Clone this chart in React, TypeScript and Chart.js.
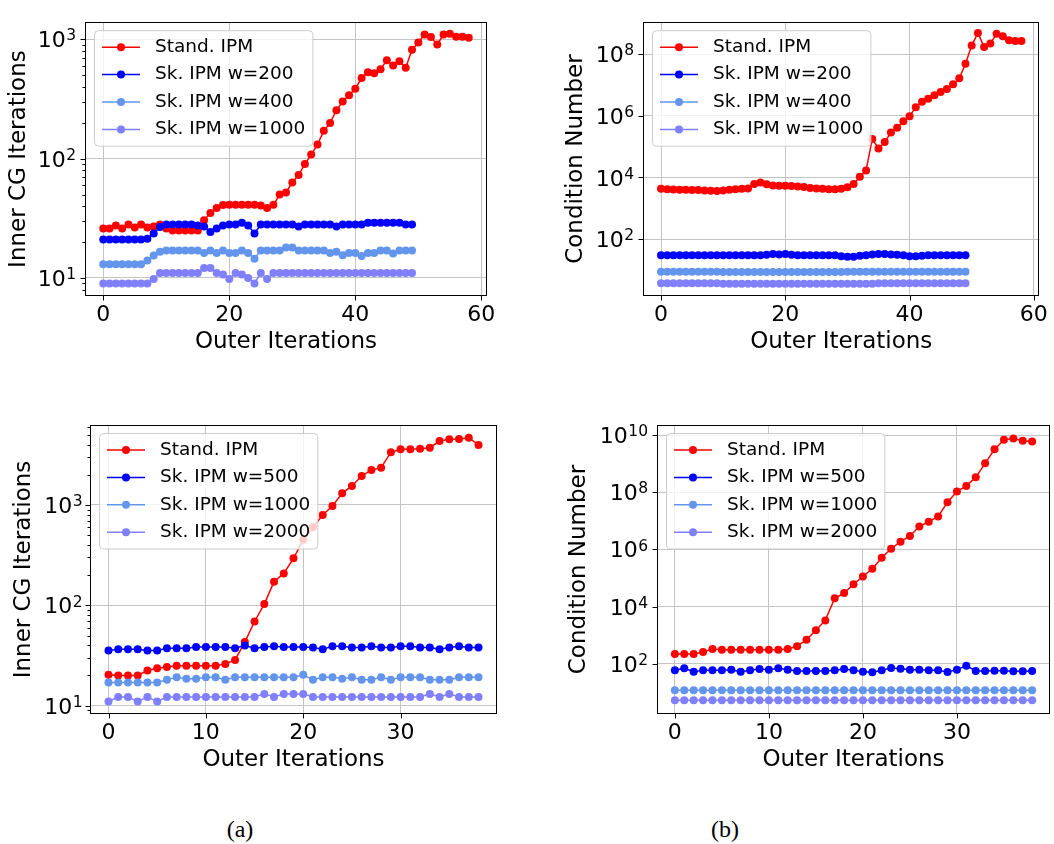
import React, { useEffect, useRef } from "react";
import { Chart, registerables } from "chart.js";

Chart.register(...registerables);

const SANS = "'DejaVu Sans', 'Liberation Sans', sans-serif";
const SERIF = "'Liberation Serif', 'DejaVu Serif', serif";

const COLORS = ["#ff0000", "#0000ff", "#6495ed", "#8080ff"];

// ---------- labels ----------
const legendTop = ["Stand. IPM", "Sk. IPM w=200", "Sk. IPM w=400", "Sk. IPM w=1000"];
const legendBottom = ["Stand. IPM", "Sk. IPM w=500", "Sk. IPM w=1000", "Sk. IPM w=2000"];
const xTitle = "Outer Iterations";
const yTitleIters = "Inner CG Iterations";
const yTitleCond = "Condition Number";

// ---------- tick values ----------
const xTicksTop = [0, 20, 40, 60];
const xTicksBottom = [0, 10, 20, 30];
const yMajorIters = [10, 100, 1000];
const yMinorItersA = [8, 9, 20, 30, 40, 50, 60, 70, 80, 90, 200, 300, 400, 500, 600, 700, 800, 900];
const yMinorItersC = [9, 20, 30, 40, 50, 60, 70, 80, 90, 200, 300, 400, 500, 600, 700, 800, 900, 2000, 3000, 4000, 5000, 6000];
const yMajorCondB = [1e2, 1e4, 1e6, 1e8];
const yMajorCondD = [1e2, 1e4, 1e6, 1e8, 1e10];

// ---------- panel (a) top: inner CG iterations ----------
const itersStandTop = [
  26, 26, 27.5, 26, 28, 26.5, 28, 26.5, 27, 28,
  26, 25, 25, 25, 25, 25, 30.5, 35, 38.6, 40.8,
  41, 41, 41, 41, 41, 40.5, 38.6, 41, 50, 52,
  63, 73, 90, 108, 131, 171, 199, 254, 301, 340,
  385, 473, 528, 518, 561, 666, 603, 654, 578, 818,
  940, 1096, 1043, 902, 1096, 1110, 1050, 1050, 1030,
];
const itersW200 = [
  21, 21, 21, 21, 21, 21, 21, 21.3, 23.6, 26.7,
  28, 28, 28, 28, 28, 27.5, 27, 24.3, 26, 27.5,
  28, 28, 29, 27.5, 23.6, 28, 28, 28, 28, 28,
  28, 27, 28, 28, 28, 28, 28, 27, 28, 28,
  28, 28, 29, 29, 29, 29, 29, 29, 28, 28,
];
const itersW400 = [
  13, 13, 13, 13, 13, 13, 13, 14, 15.4, 16.6,
  17, 17, 17, 17, 17, 17, 16.2, 17, 16.2, 17,
  16.2, 16.2, 17, 16.2, 14.5, 17, 17, 17, 17, 18,
  18, 17, 17, 17, 17, 17, 16.2, 16.6, 15.5, 16.2,
  16.2, 15.3, 16.2, 16.2, 17, 17, 16, 17, 17, 17,
];
const itersW1000 = [
  9, 9, 9, 9, 9, 9, 9, 9, 9.8, 11,
  11, 11, 11, 11, 11, 11, 12.1, 12.1, 11, 10.7,
  9.8, 11, 10.7, 10, 9, 11, 9.8, 11, 11, 11,
  11, 11, 11, 11, 11, 11, 11, 11, 11, 11,
  11, 11, 11, 11, 11, 11, 11, 11, 11, 11,
];

// ---------- panel (b) top: condition number ----------
const condStandTop = [
  4300, 4170, 4070, 3980, 3980, 3890, 3890, 3800, 3720, 3630,
  3800, 3980, 4170, 4300, 4370, 6170, 6920, 6030, 5500, 5370,
  5370, 5250, 5130, 4900, 4570, 4370, 4300, 4170, 4170, 4300,
  4790, 6170, 10500, 17000, 178000, 87100, 141000, 288000, 407000, 661000,
  977000, 1.91e6, 2.88e6, 3.55e6, 4.68e6, 5.89e6, 7.41e6, 1.05e7, 1.66e7, 4.9e7,
  1.9e8, 4.9e8, 1.7e8, 2.24e8, 4.57e8, 3.8e8, 2.82e8, 2.69e8, 2.69e8,
];
const condTopW200 = [
  30, 30, 30, 30, 30, 30, 30, 30, 30, 30,
  30, 30, 30, 30, 30, 30, 30, 31, 33, 32,
  33, 31, 30, 30, 30, 30, 30, 30, 30, 28,
  27, 27, 29, 30, 32, 33, 33, 32, 31, 30,
  28, 28, 29, 30, 30, 30, 30, 30, 30, 30,
];
const condTopW400 = [
  8.8, 8.8, 8.8, 8.8, 8.8, 8.8, 8.8, 8.8, 8.8, 8.8,
  8.6, 8.6, 8.6, 8.6, 8.6, 8.6, 8.6, 8.6, 8.6, 8.6,
  8.6, 8.6, 8.6, 8.6, 8.6, 8.6, 8.6, 8.6, 8.6, 8.6,
  8.8, 8.8, 8.8, 8.8, 8.8, 8.8, 8.8, 8.8, 8.8, 8.8,
  8.8, 8.8, 8.8, 8.8, 8.8, 8.8, 8.8, 8.8, 8.8, 8.8,
];
const condTopW1000 = [
  3.7, 3.7, 3.7, 3.7, 3.7, 3.7, 3.7, 3.7, 3.7, 3.7,
  3.6, 3.6, 3.6, 3.6, 3.6, 3.6, 3.6, 3.6, 3.6, 3.6,
  3.6, 3.6, 3.6, 3.6, 3.6, 3.6, 3.6, 3.6, 3.6, 3.6,
  3.6, 3.6, 3.6, 3.6, 3.6, 3.7, 3.7, 3.7, 3.7, 3.7,
  3.7, 3.7, 3.7, 3.7, 3.7, 3.7, 3.7, 3.7, 3.7, 3.7,
];

// ---------- panel (a) bottom: inner CG iterations ----------
const itersStandBottom = [
  20.3, 20, 20, 20, 22.4, 23.6, 24.3, 25, 25, 25,
  25, 25, 26, 28.6, 43, 69, 103, 172, 208, 294,
  450, 600, 794, 977, 1307, 1549, 1946, 2233, 2355, 3350,
  3584, 3584, 3630, 3725, 4335, 4510, 4540, 4680, 3965,
];
const itersW500 = [
  35.4, 36.5, 36.5, 36.5, 35.4, 35.4, 37.3, 37.3, 37.3, 38.5,
  38.5, 38.5, 38.5, 37.3, 39.7, 37.3, 38.5, 39.1, 38.5, 38.5,
  38.5, 37.9, 36.5, 39.1, 39.1, 37.9, 37.9, 39.1, 37.9, 37.9,
  39.1, 39.1, 37.9, 37.9, 36.5, 37.9, 39.1, 37.9, 37.9,
];
const itersBotW1000 = [
  17, 17, 17, 17, 17, 17, 18.1, 19.2, 18.6, 18.6,
  19.2, 19.2, 18.1, 19.2, 19.2, 19.2, 19.2, 19.2, 19.2, 19.2,
  20.3, 18.1, 19.2, 19.2, 18.6, 19.2, 18.1, 18.1, 19.2, 18.1,
  19.2, 19.2, 19.2, 18.1, 18.1, 18.1, 19.2, 19.2, 19.2,
];
const itersW2000 = [
  11, 12.2, 12.2, 11, 12.2, 11, 12.2, 12.2, 12.2, 12.2,
  12.2, 12.2, 12.2, 12.2, 12.2, 12.2, 13.1, 12.2, 13.1, 13.1,
  13.1, 12.2, 12.2, 12.2, 12.2, 12.2, 12.2, 12.2, 12.2, 12.2,
  12.2, 12.2, 12.2, 13.1, 12.2, 13.1, 12.2, 12.2, 12.2,
];

// ---------- panel (b) bottom: condition number ----------
const condStandBottom = [
  219, 219, 219, 257, 327, 309, 309, 309, 309, 309,
  309, 309, 327, 407, 692, 1480, 3270, 19500, 29500, 60300,
  112000, 209000, 513000, 1.05e6, 1.86e6, 2.95e6, 6.3e6, 9.33e6, 1.41e7, 4.47e7,
  1.05e8, 1.66e8, 3.31e8, 1.02e9, 3.16e9, 6.76e9, 7.59e9, 6.31e9, 5.89e9,
];
const condBotW500 = [
  58.7, 68.9, 52.7, 58.7, 58.7, 58.7, 61.9, 52.7, 58.7, 65.3,
  61.9, 68.9, 61.9, 55.6, 55.6, 55.6, 55.6, 58.7, 65.3, 58.7,
  52.7, 50, 58.7, 70.8, 67.1, 61.9, 61.9, 58.7, 58.7, 51.3,
  61.9, 85.5, 55.6, 55.6, 57.2, 57.2, 54.2, 54.2, 55.6,
];
const condBotW1000 = [
  11.7, 11.7, 11.7, 11.7, 11.7, 11.7, 11.7, 11.7, 11.7, 11.7,
  11.7, 11.7, 11.7, 11.7, 11.7, 11.7, 11.7, 11.7, 11.7, 11.7,
  11.7, 11.7, 11.7, 11.7, 11.7, 11.7, 11.7, 11.7, 11.7, 11.7,
  11.7, 11.7, 11.7, 11.7, 11.7, 11.7, 11.7, 11.7, 11.7,
];
const condBotW2000 = [
  5.3, 5.3, 5.3, 5.3, 5.3, 5.3, 5.3, 5.3, 5.3, 5.3,
  5.3, 5.3, 5.3, 5.3, 5.3, 5.3, 5.3, 5.3, 5.3, 5.3,
  5.3, 5.3, 5.3, 5.3, 5.3, 5.3, 5.3, 5.3, 5.3, 5.3,
  5.3, 5.3, 5.3, 5.3, 5.3, 5.3, 5.3, 5.3, 5.3,
];

// ---------- helpers ----------
function isDecade(v: number) {
  const l = Math.log10(v);
  return Math.abs(l - Math.round(l)) < 1e-9;
}

type PanelCfg = {
  x: number; y: number; w: number; h: number;
  padTop: number; padRight: number; yWidth: number; xHeight: number;
  xMin: number; xMax: number; xTicks: number[];
  yMin: number; yMax: number; yMajor: number[]; yMinor: number[];
  yTitle: string; yTitlePad: number; yTickPad: number; xTitlePad: number;
  labels: string[]; series: number[][];
};

const panels: PanelCfg[] = [
  {
    x: 0, y: 0, w: 527, h: 370, padTop: 7, padRight: 40, yWidth: 85, xHeight: 74,
    xMin: -2.9, xMax: 60.9, xTicks: xTicksTop,
    yMin: 7.06, yMax: 1390, yMajor: yMajorIters, yMinor: yMinorItersA,
    yTitle: yTitleIters, yTitlePad: 5, yTickPad: 9, xTitlePad: 14,
    labels: legendTop, series: [itersStandTop, itersW200, itersW400, itersW1000],
  },
  {
    x: 527, y: 0, w: 527, h: 370, padTop: 7, padRight: 11, yWidth: 116, xHeight: 74,
    xMin: -2.9, xMax: 60.9, xTicks: xTicksTop,
    yMin: 1.43, yMax: 1.09e9, yMajor: yMajorCondB, yMinor: [],
    yTitle: yTitleCond, yTitlePad: 35, yTickPad: 9, xTitlePad: 14,
    labels: legendTop, series: [condStandTop, condTopW200, condTopW400, condTopW1000],
  },
  {
    x: 0, y: 400, w: 527, h: 390, padTop: 25, padRight: 30, yWidth: 90, xHeight: 76,
    xMin: -1.9, xMax: 39.9, xTicks: xTicksBottom,
    yMin: 8.26, yMax: 6270, yMajor: yMajorIters, yMinor: yMinorItersC,
    yTitle: yTitleIters, yTitlePad: 10, yTickPad: 7.5, xTitlePad: 16,
    labels: legendBottom, series: [itersStandBottom, itersW500, itersBotW1000, itersW2000],
  },
  {
    x: 527, y: 400, w: 527, h: 390, padTop: 25, padRight: 1, yWidth: 130, xHeight: 76,
    xMin: -1.9, xMax: 39.9, xTicks: xTicksBottom,
    yMin: 1.74, yMax: 2.24e10, yMajor: yMajorCondD, yMinor: [],
    yTitle: yTitleCond, yTitlePad: 38, yTickPad: 9, xTitlePad: 16,
    labels: legendBottom, series: [condStandBottom, condBotW500, condBotW1000, condBotW2000],
  },
];

const TICK_SIZE = 22;
const EXP_SIZE = 15.5;

function buildChart(canvas: HTMLCanvasElement, cfg: PanelCfg) {
  const frameAndLegend = {
    id: "mplFrameLegend",
    afterDatasetsDraw(chart: any) {
      const { ctx, chartArea: a, scales } = chart;
      ctx.save();
      ctx.strokeStyle = "#000";
      ctx.lineWidth = 1;
      const L = Math.round(a.left) + 0.5, R = Math.round(a.right) - 0.5;
      const T = Math.round(a.top) + 0.5, B = Math.round(a.bottom) - 0.5;
      ctx.strokeRect(L, T, R - L, B - T);
      ctx.beginPath();
      cfg.xTicks.forEach((v) => {
        const px = Math.round(scales.x.getPixelForValue(v)) + 0.5;
        ctx.moveTo(px, B);
        ctx.lineTo(px, B + 5);
      });
      cfg.yMajor.forEach((v) => {
        const py = Math.round(scales.y.getPixelForValue(v)) + 0.5;
        ctx.moveTo(L - 5, py);
        ctx.lineTo(L, py);
      });
      cfg.yMinor.forEach((v) => {
        const py = Math.round(scales.y.getPixelForValue(v)) + 0.5;
        ctx.moveTo(L - 3, py);
        ctx.lineTo(L, py);
      });
      ctx.stroke();

      // y tick labels as 10^e with a raised exponent
      ctx.fillStyle = "#000";
      ctx.textBaseline = "alphabetic";
      ctx.textAlign = "right";
      const xR = Math.round(a.left) - cfg.yTickPad;
      cfg.yMajor.forEach((v) => {
        const py = scales.y.getPixelForValue(v);
        const exp = String(Math.round(Math.log10(v)));
        const base = py + TICK_SIZE * 0.3645;
        ctx.font = `${EXP_SIZE}px ${SANS}`;
        const ew = ctx.measureText(exp).width;
        ctx.fillText(exp, xR, base - 6.8);
        ctx.font = `${TICK_SIZE}px ${SANS}`;
        ctx.fillText("10", xR - ew - 0.5, base);
      });

      // legend
      ctx.font = `18.5px ${SANS}`;
      const textW = Math.max(...cfg.labels.map((l) => ctx.measureText(l).width));
      const bx = a.left + 9.5, by = a.top + 8.5;
      const textOff = 60.5, rowH = 27.4, firstRow = 16.5;
      const bw = textOff + textW + 7.5;
      const bh = firstRow + rowH * (cfg.labels.length - 1) + 16.8;
      ctx.beginPath();
      ctx.roundRect(bx, by, bw, bh, 4);
      ctx.fillStyle = "rgba(255,255,255,0.8)";
      ctx.fill();
      ctx.strokeStyle = "#cccccc";
      ctx.lineWidth = 1;
      ctx.stroke();
      cfg.labels.forEach((lab, i) => {
        const cy = by + firstRow + i * rowH;
        ctx.strokeStyle = COLORS[i];
        ctx.lineWidth = 1.5;
        ctx.beginPath();
        ctx.moveTo(bx + 7.5, cy);
        ctx.lineTo(bx + 45.5, cy);
        ctx.stroke();
        ctx.fillStyle = COLORS[i];
        ctx.beginPath();
        ctx.arc(bx + 26.5, cy, 4, 0, Math.PI * 2);
        ctx.fill();
        ctx.fillStyle = "#000";
        ctx.textAlign = "left";
        ctx.textBaseline = "middle";
        ctx.fillText(lab, bx + textOff, cy);
      });
      ctx.restore();
    },
  };

  const n = cfg.series.length;
  return new Chart(canvas, {
    type: "line",
    data: {
      datasets: cfg.series.map((vals, i) => ({
        label: cfg.labels[i],
        data: vals.map((v, k) => ({ x: k, y: v })),
        borderColor: COLORS[i],
        backgroundColor: COLORS[i],
        pointBackgroundColor: COLORS[i],
        pointBorderColor: COLORS[i],
        pointRadius: 4,
        pointBorderWidth: 0,
        pointHoverRadius: 4,
        borderWidth: 1.5,
        tension: 0,
        order: n - i,
      })),
    },
    options: {
      animation: false,
      responsive: false,
      devicePixelRatio: 1,
      events: [],
      layout: { padding: { left: 0, top: cfg.padTop, right: cfg.padRight, bottom: 0 } },
      plugins: { legend: { display: false }, tooltip: { enabled: false } },
      scales: {
        x: {
          type: "linear",
          bounds: "data",
          min: cfg.xMin,
          max: cfg.xMax,
          afterBuildTicks: (s: any) => {
            s.ticks = cfg.xTicks.map((v) => ({ value: v }));
          },
          afterFit: (s: any) => {
            s.height = cfg.xHeight;
          },
          grid: { color: "#c4c4c4", lineWidth: 1, drawTicks: false },
          border: { display: false },
          ticks: {
            autoSkip: false,
            maxRotation: 0,
            padding: 6,
            color: "#000",
            font: { family: SANS, size: TICK_SIZE },
            callback: (v: any) => String(v),
          },
          title: {
            display: true,
            text: xTitle,
            color: "#000",
            font: { family: SANS, size: 23 },
            padding: { top: 0, bottom: cfg.xTitlePad },
          },
        },
        y: {
          type: "logarithmic",
          bounds: "data",
          min: cfg.yMin,
          max: cfg.yMax,
          afterBuildTicks: (s: any) => {
            const all = [...cfg.yMajor, ...cfg.yMinor].sort((p, q) => p - q);
            s.ticks = all.map((v) => ({ value: v }));
          },
          afterFit: (s: any) => {
            s.width = cfg.yWidth;
          },
          grid: {
            color: (c: any) => (c.tick && isDecade(c.tick.value) ? "#c4c4c4" : "rgba(0,0,0,0)"),
            lineWidth: 1,
            drawTicks: false,
          },
          border: { display: false },
          ticks: {
            autoSkip: false,
            padding: cfg.yTickPad,
            color: "#000",
            font: { family: SANS, size: TICK_SIZE },
            callback: () => "",
          },
          title: {
            display: true,
            text: cfg.yTitle,
            color: "#000",
            font: { family: SANS, size: 23 },
            padding: { top: cfg.yTitlePad, bottom: 0 },
          },
        },
      },
    },
    plugins: [frameAndLegend],
  } as any);
}

function Panel({ cfg }: { cfg: PanelCfg }) {
  const ref = useRef<HTMLCanvasElement>(null);
  useEffect(() => {
    const chart = buildChart(ref.current as HTMLCanvasElement, cfg);
    return () => chart.destroy();
  }, [cfg]);
  return (
    <canvas
      ref={ref}
      width={cfg.w}
      height={cfg.h}
      style={{ position: "absolute", left: cfg.x, top: cfg.y, width: cfg.w, height: cfg.h, display: "block" }}
    />
  );
}

export default function App() {
  const caption: React.CSSProperties = {
    position: "absolute",
    top: 817,
    width: 100,
    textAlign: "center",
    fontFamily: SERIF,
    fontSize: 24,
    lineHeight: "24px",
    color: "#000",
  };
  return (
    <div style={{ position: "absolute", left: 0, top: 0, width: 1054, height: 844, background: "#fff", overflow: "hidden" }}>
      {panels.map((p, i) => (
        <Panel key={i} cfg={p} />
      ))}
      <div style={{ ...caption, left: 190 }}>(a)</div>
      <div style={{ ...caption, left: 675 }}>(b)</div>
    </div>
  );
}
